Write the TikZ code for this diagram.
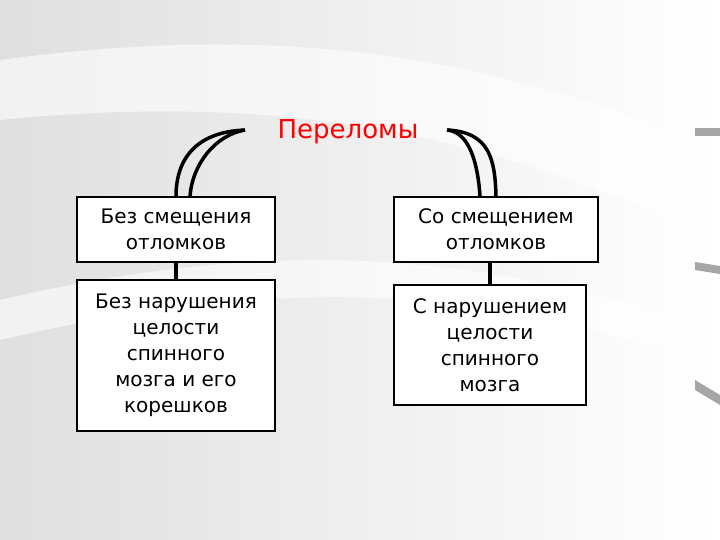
\documentclass[tikz,border=0pt]{standalone}
\usepackage{fontspec}
\setmainfont{DejaVu Sans}
\begin{document}
\begin{tikzpicture}[x=1pt,y=-1pt,
  box/.style={draw,fill=white,line width=1.2pt,align=center,font=\fontsize{20}{26}\selectfont,inner sep=2pt},
  conn/.style={line width=3.5pt}]
\useasboundingbox (0,0) rectangle (720,540);
\shade[left color=gray!25,right color=white] (0,0) rectangle (720,540);
\fill[white,opacity=0.6] (0,60) .. controls (300,20) and (500,60) .. (720,150) -- (720,240) .. controls (500,140) and (300,90) .. (0,120) -- cycle;
\fill[white,opacity=0.6] (0,300) .. controls (300,230) and (500,260) .. (720,330) -- (720,370) .. controls (500,290) and (300,270) .. (0,340) -- cycle;
\fill[gray!70] (695,128) rectangle (720,136);
\fill[gray!70] (695,262) -- (720,266) -- (720,274) -- (695,270) -- cycle;
\fill[gray!70] (695,380) -- (720,395) -- (720,405) -- (695,390) -- cycle;
\node[text=red,font=\fontsize{26}{30}\selectfont] (t) at (348,132) {Переломы};
\node[box,minimum width=198,minimum height=65] (a) at (176,229.5) {Без смещения\\отломков};
\node[box,minimum width=198,minimum height=151] (b) at (176,355.5) {Без нарушения\\целости\\спинного\\мозга и его\\корешков};
\node[box,minimum width=204,minimum height=65] (c) at (496,229.5) {Со смещением\\отломков};
\node[box,minimum width=192,minimum height=120] (d) at (490,345) {С нарушением\\целости\\спинного\\мозга};
\coordinate (l) at (245,130); \coordinate (r) at (447,130);
\draw[conn] (l) .. controls (195,132) and (176,160) .. (a.north -| 176,0);
\draw[conn] (l) .. controls (215,135) and (192,165) .. (a.north -| 190,0);
\draw[conn] (r) .. controls (470,132) and (478,165) .. (c.north -| 480,0);
\draw[conn] (r) .. controls (490,132) and (495,160) .. (c.north -| 496,0);
\draw[conn] (a.south -| 176,0) -- (b.north -| 176,0);
\draw[conn] (c.south -| 490,0) -- (d.north -| 490,0);
\end{tikzpicture}
\end{document}
